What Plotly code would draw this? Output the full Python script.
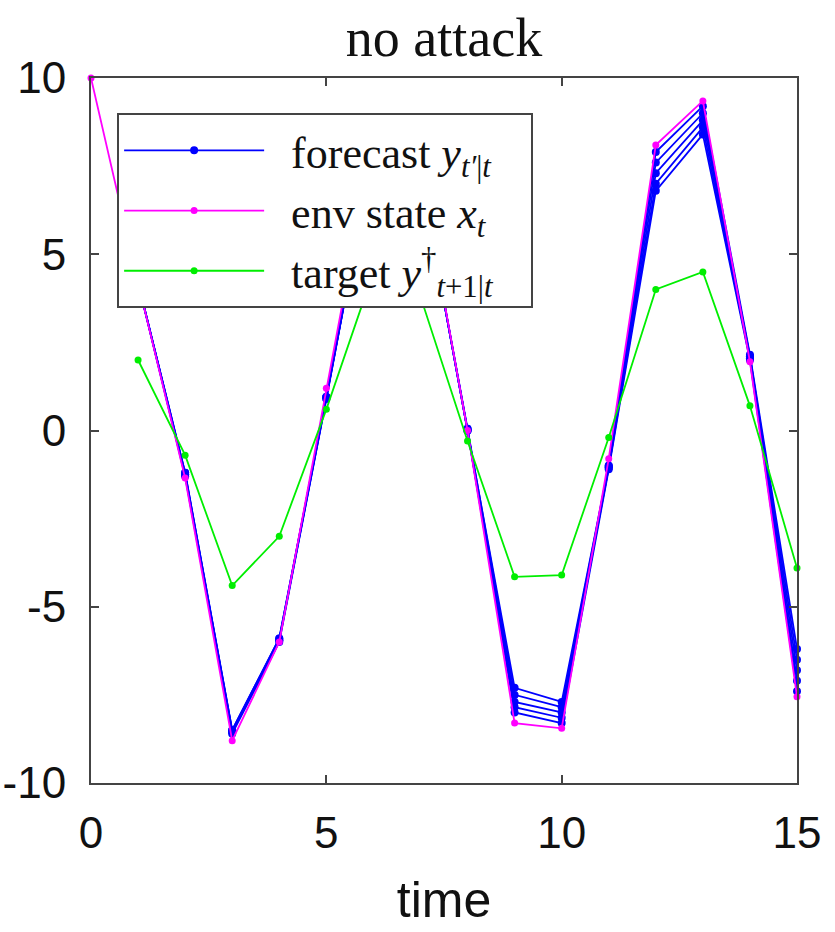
import plotly.graph_objects as go

time = list(range(16))
env_state = [10, 4.2, -1.35, -8.8, -6.0, 1.2, 8.3, 7.4, 0.0, -8.3, -8.45, -0.8, 8.1, 9.35, 1.95, -7.55]
target = [None, 2.0, -0.7, -4.4, -3.0, 0.6, 4.5, 3.8, -0.3, -4.15, -4.1, -0.2, 4.0, 4.5, 0.7, -3.9]
forecast_a = [None, 4.2, -1.2, -8.5, -5.9, 0.95, 8.0, 7.3, 0.05, -7.3, -7.7, -1.0, 7.9, 9.2, 2.15, -6.2]
forecast_b = [None, 4.2, -1.2, -8.5, -5.9, 0.95, 8.0, 7.3, 0.05, -7.5, -7.85, -1.0, 7.6, 9.0, 2.1, -6.5]
forecast_c = [None, 4.2, -1.25, -8.55, -5.95, 0.95, 8.0, 7.3, 0.0, -7.7, -8.0, -1.05, 7.3, 8.8, 2.1, -6.8]
forecast_d = [None, 4.2, -1.25, -8.55, -5.95, 0.9, 8.0, 7.3, 0.0, -7.85, -8.15, -1.05, 7.0, 8.6, 2.05, -7.1]
forecast_e = [None, 4.2, -1.3, -8.6, -6.0, 0.9, 8.0, 7.3, 0.0, -8.0, -8.3, -1.1, 6.8, 8.4, 2.0, -7.4]
forecasts = [forecast_a, forecast_b, forecast_c, forecast_d, forecast_e]

x_ticks = [0, 5, 10, 15]
x_ticktext = ["0", "5", "10", "15"]
y_ticks = [-10, -5, 0, 5, 10]
y_ticktext = ["-10", "-5", "0", "5", "10"]

BLUE = "#0000ff"
MAGENTA = "#ff00ff"
GREEN = "#00ee00"
SANS = "Liberation Sans, Arial, sans-serif"
SERIF = "Liberation Serif, Times New Roman, serif"
NB = "\u00a0"

fig = go.Figure()
for i, f in enumerate(forecasts):
    fig.add_trace(go.Scatter(
        x=time, y=f, mode="lines+markers",
        line=dict(color=BLUE, width=1.8),
        marker=dict(color=BLUE, size=8),
        name=NB * 2 + "forecast <i>y</i><sub><i>t′</i>|<i>t</i></sub>",
        showlegend=(i == 0), legendgroup="f", cliponaxis=False,
    ))
fig.add_trace(go.Scatter(
    x=time, y=env_state, mode="lines+markers",
    line=dict(color=MAGENTA, width=1.8),
    marker=dict(color=MAGENTA, size=7),
    name=NB * 2 + "env state <i>x</i><sub><i>t</i></sub>", legendgroup="e", cliponaxis=False,
))
fig.add_trace(go.Scatter(
    x=time, y=target, mode="lines+markers",
    line=dict(color=GREEN, width=1.8),
    marker=dict(color=GREEN, size=7),
    name=NB * 2 + "target <i>y</i><sup>†</sup><sub><i>t</i>+1|<i>t</i></sub>" + NB * 3,
    legendgroup="t", cliponaxis=False,
))

axis_common = dict(
    showline=True, linecolor="#444", linewidth=2, mirror="ticks",
    ticks="inside", ticklen=8, tickwidth=1.5, tickcolor="#444",
    showgrid=False, zeroline=False, automargin=False,
    tickfont=dict(family=SANS, size=44, color="#111"),
)

fig.update_layout(
    width=835, height=932,
    margin=dict(l=91, r=38, t=78, b=149),
    paper_bgcolor="white", plot_bgcolor="white",
    title=dict(text="no attack", x=0.5, xref="paper", y=1 - 37 / 932, yref="container",
               yanchor="middle", xanchor="center",
               font=dict(family=SERIF, size=54, color="#111")),
    xaxis=dict(range=[0, 15], tickvals=x_ticks, ticktext=x_ticktext, ticklabelstandoff=10,
               title=dict(text="time", font=dict(family=SANS, size=50, color="#111"), standoff=26),
               **axis_common),
    yaxis=dict(range=[-10, 10], tickvals=y_ticks, ticktext=y_ticktext, ticklabelstandoff=14,
               **axis_common),
    legend=dict(x=0.037, y=0.95, xanchor="left", yanchor="top",
                bgcolor="white", bordercolor="#444", borderwidth=2,
                font=dict(family=SERIF, size=44, color="#111"),
                tracegroupgap=0, itemwidth=140),
)

fig.write_html("out.html")
